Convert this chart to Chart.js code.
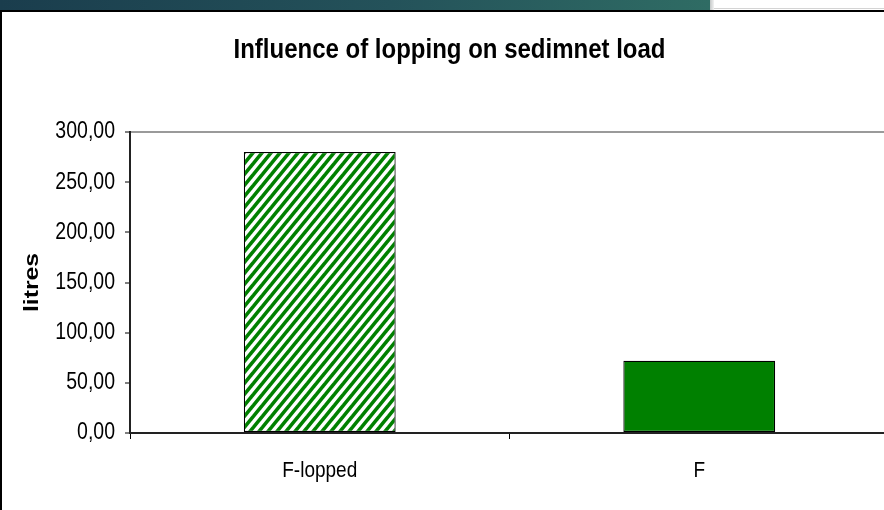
<!DOCTYPE html>
<html>
<head>
<meta charset="utf-8">
<script src="https://cdn.jsdelivr.net/npm/chart.js@4.4.1/dist/chart.umd.min.js"></script>
<style>
  html, body { margin: 0; padding: 0; background: #fff; overflow: hidden; }
  #page { position: relative; width: 884px; height: 510px; overflow: hidden; background: #fff; }
  #wrap { position: absolute; left: 0; top: 0; width: 900px; height: 510px; }
  #band { position: absolute; left: 0; top: 0; width: 710px; height: 10px;
          background: linear-gradient(90deg, #1a3d4d 0%, #24525a 55%, #2f6c64 100%); }
  #bandEnd { position: absolute; left: 710px; top: 0; width: 4px; height: 10px;
             background: linear-gradient(90deg, #c4c8c8, #f2f2f2); }
  #rule { position: absolute; left: 714px; top: 8px; width: 170px; height: 1px; background: #d4d4d4; }
  #frameTop { position: absolute; left: 0; top: 10px; width: 884px; height: 2px; background: #000; }
  #frameLeft { position: absolute; left: 0; top: 10px; width: 2px; height: 500px; background: #000; }
</style>
</head>
<body>
<div id="page">
  <div id="wrap"><canvas id="chart" width="900" height="510"></canvas></div>
  <div id="band"></div>
  <div id="bandEnd"></div>
  <div id="rule"></div>
  <div id="frameTop"></div>
  <div id="frameLeft"></div>
</div>
<script>
// Sediment volume per treatment (litres)
const categories = ['F-lopped', 'F'];
const litres = [280, 72];

// Value axis range and tick step
const yMin = 0;
const yMax = 300;
const yStep = 50;

const chartTitle = 'Influence of lopping on sedimnet load';
const yTitle = 'litres';

const sans = "'Liberation Sans', Arial, sans-serif";
const green = '#008000';

// Tall, narrow lettering: every label is drawn stretched vertically about its anchor
const TEXT_STRETCH = 1.18;
const canvas = document.getElementById('chart');
const ctx2d = canvas.getContext('2d');
const baseFillText = ctx2d.fillText;
ctx2d.fillText = function (text, x, y, maxWidth) {
  const m = this.getTransform();
  const p = m.transformPoint(new DOMPoint(x, y));
  this.setTransform(new DOMMatrix()
    .translate(p.x, p.y).scale(1, TEXT_STRETCH).translate(-p.x, -p.y)
    .multiply(m));
  if (maxWidth === undefined) baseFillText.call(this, text, x, y);
  else baseFillText.call(this, text, x, y, maxWidth);
  this.setTransform(m);
};

// Upward diagonal green/white stripes for the lopped treatment
function makeHatch() {
  const w = 9, h = 11;
  const c = document.createElement('canvas');
  c.width = w; c.height = h;
  const g = c.getContext('2d');
  g.fillStyle = '#fff';
  g.fillRect(0, 0, w, h);
  g.strokeStyle = green;
  g.lineWidth = 3.6;
  for (const k of [-w, 0, w]) {
    g.beginPath();
    g.moveTo(k - w, 2 * h);
    g.lineTo(k + 2 * w, -h);
    g.stroke();
  }
  return g.createPattern(c, 'repeat');
}

const fmt = v => Number(v).toFixed(2).replace('.', ',');

new Chart(canvas, {
  type: 'bar',
  data: {
    labels: categories,
    datasets: [{
      data: litres,
      backgroundColor: [makeHatch(), green],
      borderColor: '#000',
      borderWidth: 1.2,
      borderSkipped: false,
      barPercentage: 0.4,
      categoryPercentage: 1
    }]
  },
  options: {
    responsive: false,
    animation: false,
    devicePixelRatio: 1,
    layout: { padding: { left: 10, right: 11, top: 0, bottom: 0 } },
    plugins: {
      legend: { display: false },
      tooltip: { enabled: false },
      title: {
        display: true,
        text: chartTitle,
        color: '#000',
        font: { family: sans, size: 24, weight: 'bold', lineHeight: 1.2 },
        padding: { top: 35.6, bottom: 67.6 }
      }
    },
    scales: {
      x: {
        offset: true,
        grid: {
          display: true,
          offset: true,
          drawOnChartArea: false,
          drawTicks: true,
          tickLength: 6,
          tickColor: '#000',
          tickWidth: 1
        },
        border: { display: true, color: '#222', width: 2 },
        ticks: { color: '#000', font: { family: sans, size: 19 }, padding: 20 },
        afterFit: s => { s.height = 77; }
      },
      y: {
        min: yMin,
        max: yMax,
        ticks: {
          stepSize: yStep,
          callback: v => fmt(v),
          color: '#000',
          font: { family: sans, size: 19.5 },
          padding: 10
        },
        grid: {
          drawOnChartArea: true,
          color: ctx => (ctx.tick && ctx.tick.value === yMax) ? '#9a9a9a' : 'rgba(0,0,0,0)',
          lineWidth: 2,
          tickColor: '#000',
          tickWidth: 1,
          tickLength: 5
        },
        border: { display: true, color: '#222', width: 2 },
        title: {
          display: true,
          text: yTitle,
          color: '#000',
          font: { family: sans, size: 21, weight: 'bold', lineHeight: 1.2 },
          padding: { top: 10, bottom: 0 }
        },
        afterFit: s => { s.width = 120; }
      }
    }
  }
});
</script>
</body>
</html>
